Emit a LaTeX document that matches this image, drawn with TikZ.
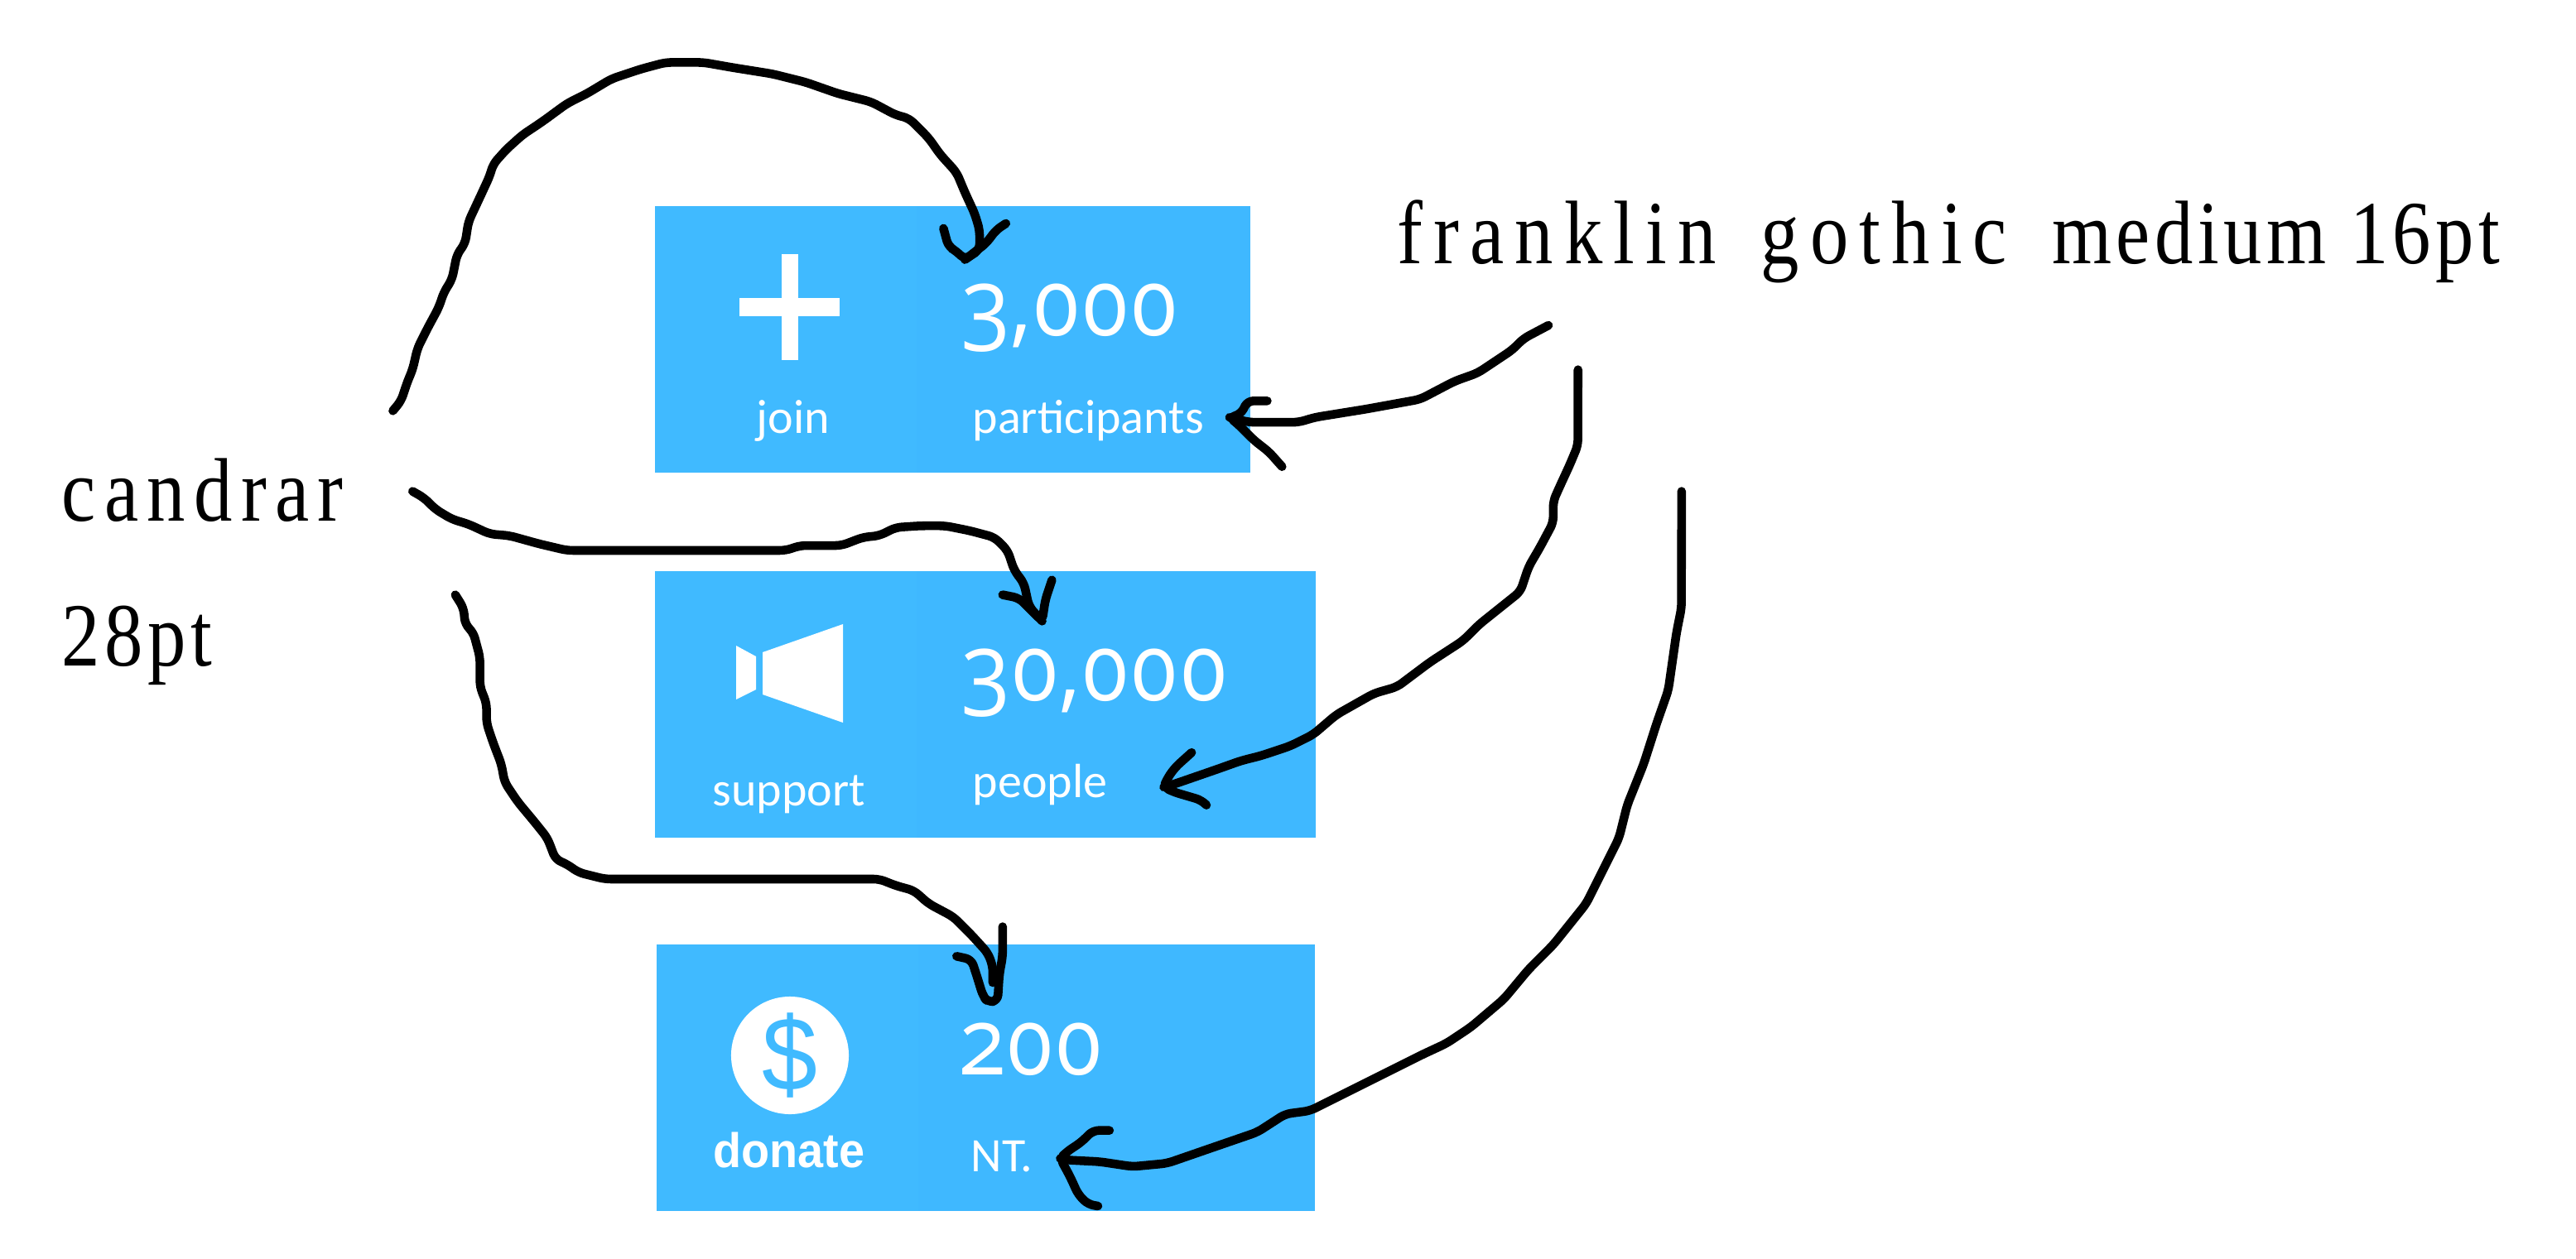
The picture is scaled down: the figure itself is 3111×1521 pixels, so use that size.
\documentclass[tikz,border=0pt]{standalone}
\usepackage{fontspec}
\setmainfont{Liberation Serif}
\newfontfamily\notefont[FakeStretch=0.85,LetterSpace=9.5,WordSpace=1.5]{Liberation Serif}
\newfontfamily\widenote[FakeStretch=0.85,LetterSpace=12,WordSpace=1.5]{Liberation Serif}
\newfontfamily\tightnote[FakeStretch=0.85,LetterSpace=5]{Liberation Serif}
\newfontfamily\tilefont{Carlito}
\newfontfamily\numfont[Numbers=OldStyle,FakeStretch=0.93]{Open Sans}
\newfontfamily\boldfont[FakeStretch=0.95]{Liberation Sans}
\definecolor{tileblue}{HTML}{40BAFF}
\definecolor{tiledark}{HTML}{3FB8FF}
\tikzset{
    lefttile/.style={fill=tileblue, inner sep=0pt, anchor=north west, minimum width=3.18cm, minimum height=3.22cm},
    righttile/.style={fill=tiledark, inner sep=0pt, anchor=north west, minimum height=3.22cm, xshift=-1pt},
    numlabel/.style={text=white, inner sep=0pt, anchor=base west, font=\numfont\fontsize{32}{40}\selectfont},
    ticklabel/.style={text=white, inner sep=0pt, anchor=base west, font=\tilefont\fontsize{16.5}{18}\selectfont},
    notelabel/.style={inner sep=0pt, anchor=base west, font=\notefont\fontsize{31}{36}\selectfont},
    scrawl/.style={line width=3pt, line cap=round, line join=round, rounded corners=2pt}
}
\begin{document}
\begin{tikzpicture}[x=0.01cm, y=-0.01cm]
    \useasboundingbox (0,0) rectangle (3111,1521);
    % tiles
    \node[lefttile] (joinbox) at (790,248) {};
    \node[righttile, minimum width=4.03cm] (partbox) at (joinbox.north east) {};
    \node[lefttile] (supportbox) at (790,689) {};
    \node[righttile, minimum width=4.82cm] (peoplebox) at (supportbox.north east) {};
    \node[lefttile] (donatebox) at (792,1140) {};
    \node[righttile, minimum width=4.79cm] (ntbox) at (donatebox.north east) {};
    % icons
    \fill[white] (893,360) rectangle (1014,382);
    \fill[white] (944,307) rectangle (964,435);
    \fill[white] (889,780) -- (913,793) -- (913,833) -- (889,845) -- cycle;
    \fill[white] (921,788) -- (1018,754) -- (1018,873) -- (921,839) -- cycle;
    \node[circle, fill=white, inner sep=0pt, minimum size=1.42cm, text=tileblue, font=\boldfont\fontsize{36}{40}\selectfont] (dollar) at (954,1275) {\$};
    % tile texts
    \node[numlabel] (threek) at (1160,405) {3,000};
    \node[numlabel] (thirtyk) at (1160,846) {30,000};
    \node[numlabel] (twohundred) at (1160,1298) {200};
    \node[ticklabel] (join) at (913,523) {join};
    \node[ticklabel] (participants) at (1174,523) {participants};
    \node[ticklabel] (support) at (860,973) {support};
    \node[ticklabel] (people) at (1174,963) {people};
    \node[text=white, inner sep=0pt, anchor=base west, font=\boldfont\bfseries\fontsize{16.7}{18}\selectfont] (donate) at (861,1410) {donate};
    \node[ticklabel] (nt) at (1172,1415) {NT.};
    % notes
    \node[notelabel] (franklin) at (1687,318) {\widenote franklin gothic {\tightnote medium 16pt}};
    \node[notelabel] (candrar) at (74,629) {candrar};
    \node[notelabel] (size) at (74,804) {\tightnote 28pt};
    % hand drawn arrows
    \begin{scope}[scale=1.985]
        \coordinate (candrarA) at (239,250);
        \coordinate (candrarB) at (251,299);
        \coordinate (candrarC) at (277,362);
        \coordinate (franklinA) at (942,198);
        \coordinate (franklinB) at (960,225);
        \coordinate (franklinC) at (1023,299);
        \coordinate (tipA) at (587,158);
        \coordinate (tipB) at (634,378);
        \coordinate (tipC) at (601,610);
        \coordinate (tipD) at (748,254);
        \coordinate (tipE) at (708,479);
        \coordinate (tipF) at (645,705);

        \draw[scrawl] (candrarA) -- (244,244) -- (248,232) -- (251,225) -- (254,212) -- (260,200) -- (267,187) -- (270,178) -- (275,170) -- (278,155) -- (283,148) -- (285,135) -- (292,120) -- (298,107) -- (300,100) -- (308,91) -- (318,82) -- (330,74) -- (345,63) -- (357,57) -- (372,48) -- (390,42) -- (405,38) -- (428,38) -- (445,41) -- (470,45) -- (490,50) -- (510,57) -- (530,62) -- (545,70) -- (553,72) -- (565,84) -- (572,94) -- (582,105) -- (587,117) -- (593,130) -- (596,140) -- (596,152) -- (tipA);
        \draw[scrawl] (574,139) -- (577,150) -- (582,153) -- (tipA) -- (600,148) -- (606,140) -- (612,136);

        \draw[scrawl] (candrarB) -- (258,303) -- (265,310) -- (275,316) -- (285,319) -- (298,325) -- (310,326) -- (328,331) -- (345,335) -- (355,335) -- (478,335) -- (487,332) -- (512,332) -- (525,327) -- (535,326) -- (545,321) -- (560,320) -- (575,320) -- (590,323) -- (605,327) -- (613,335) -- (617,347) -- (623,355) -- (626,369) -- (tipB);
        \draw[scrawl] (610,362) -- (620,364) -- (628,372) -- (tipB) -- (636,365) -- (640,353);

        \draw[scrawl] (candrarC) -- (282,370) -- (283,380) -- (288,385) -- (292,400) -- (292,418) -- (296,428) -- (296,440) -- (300,452) -- (305,465) -- (307,476) -- (315,488) -- (325,500) -- (333,510) -- (338,523) -- (345,526) -- (352,531) -- (368,535) -- (535,535) -- (545,539) -- (556,542) -- (565,550) -- (580,558) -- (591,569) -- (601,580) -- (604,588) -- (604,598);
        \draw[scrawl] (582,582) -- (591,584) -- (594,593) -- (598,606) -- (tipC) -- (607,609) -- (608,593) -- (610,582) -- (610,564);

        \draw[scrawl] (franklinA) -- (927,206) -- (920,213) -- (899,227) -- (885,232) -- (864,243) -- (831,249) -- (800,254) -- (790,257) -- (760,257) -- (tipD);
        \draw[scrawl] (771,244) -- (759,244) -- (755,252) -- (tipD) -- (753,258) -- (763,268) -- (772,275) -- (780,284);

        \draw[scrawl] (franklinB) -- (960,271) -- (955,283) -- (949,296) -- (945,305) -- (945,318) -- (937,333) -- (930,345) -- (925,360) -- (900,380) -- (890,390) -- (870,403) -- (850,418) -- (836,422) -- (813,435) -- (799,447) -- (785,454) -- (767,460) -- (755,463) -- (741,468) -- (715,477) -- (tipE);
        \draw[scrawl] (725,458) -- (715,467) -- (710,474) -- (tipE) -- (714,482) -- (731,487) -- (734,490);

        \draw[scrawl] (franklinC) -- (1023,370) -- (1020,385) -- (1015,420) -- (1008,440) -- (1000,465) -- (990,490) -- (985,510) -- (975,530) -- (965,550) -- (945,575) -- (930,590) -- (915,608) -- (895,625) -- (880,635) -- (865,642) -- (845,652) -- (825,662) -- (797,676) -- (782,678) -- (765,689) -- (736,699) -- (710,708) -- (689,710) -- (669,707) -- (649,706) -- (tipF);
        \draw[scrawl] (675,688) -- (665,688) -- (658,695) -- (649,701) -- (tipF) -- (651,716) -- (656,727) -- (662,733) -- (668,734);
    \end{scope}
\end{tikzpicture}
\end{document}
